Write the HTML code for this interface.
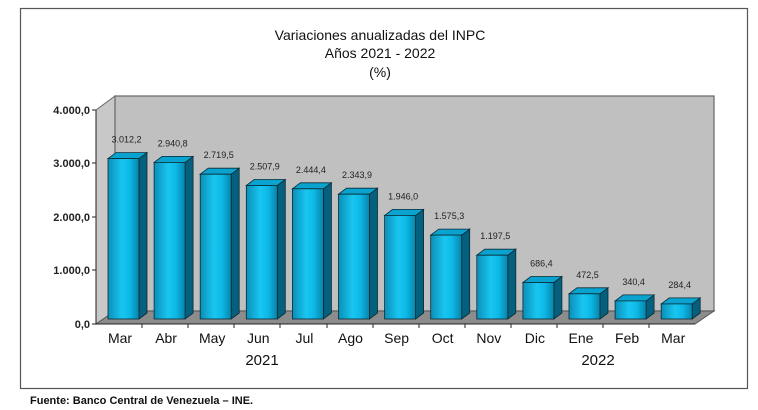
<!DOCTYPE html>
<html><head><meta charset="utf-8"><style>
html,body{margin:0;padding:0;background:#fff;}
svg{display:block}
</style></head><body>
<svg width="758" height="410" viewBox="0 0 758 410" xmlns="http://www.w3.org/2000/svg" font-family="Liberation Sans, Arial, sans-serif">
<defs>
<linearGradient id="fg" x1="0" x2="1" y1="0" y2="0">
<stop offset="0" stop-color="#0a8fb8"/><stop offset="0.45" stop-color="#19c6f0"/><stop offset="0.7" stop-color="#0db8e6"/><stop offset="1" stop-color="#0784aa"/>
</linearGradient>
</defs>
<rect x="20.5" y="8.5" width="727" height="380" fill="#fff" stroke="#555" stroke-width="1.2"/>
<text x="380" y="40" text-anchor="middle" font-size="14" fill="#111">Variaciones anualizadas del INPC</text>
<text x="380" y="58" text-anchor="middle" font-size="14" fill="#111">Años 2021 - 2022</text>
<text x="380" y="77" text-anchor="middle" font-size="14" fill="#111">(%)</text>
<polygon points="96,110 115,96 115,311 96,324" fill="#c8c8c8" stroke="#666" stroke-width="1"/>
<rect x="115" y="96" width="599" height="215" fill="#c0c0c0" stroke="#666" stroke-width="1.2"/>
<polygon points="96,324 115,311 714,311 695,324" fill="#8c8c8c" stroke="#555" stroke-width="1"/>
<line x1="96" y1="110" x2="96" y2="324" stroke="#222"/>
<line x1="96" y1="324" x2="695" y2="324" stroke="#222"/>
<g stroke="#222">
<line x1="92" y1="110" x2="96" y2="110"/><line x1="92" y1="163" x2="96" y2="163"/><line x1="92" y1="217" x2="96" y2="217"/><line x1="92" y1="270" x2="96" y2="270"/><line x1="92" y1="324" x2="96" y2="324"/>
<line x1="142" y1="324" x2="142" y2="328"/><line x1="188" y1="324" x2="188" y2="328"/><line x1="234" y1="324" x2="234" y2="328"/><line x1="280" y1="324" x2="280" y2="328"/><line x1="327" y1="324" x2="327" y2="328"/><line x1="373" y1="324" x2="373" y2="328"/><line x1="419" y1="324" x2="419" y2="328"/><line x1="465" y1="324" x2="465" y2="328"/><line x1="511" y1="324" x2="511" y2="328"/><line x1="557" y1="324" x2="557" y2="328"/><line x1="603" y1="324" x2="603" y2="328"/><line x1="649" y1="324" x2="649" y2="328"/>
</g>
<g font-size="11" font-weight="bold" text-anchor="end" fill="#222">
<text x="90" y="114">4.000,0</text><text x="90" y="167">3.000,0</text><text x="90" y="221">2.000,0</text><text x="90" y="274">1.000,0</text><text x="90" y="328">0,0</text>
</g>
<g stroke="#0a2a35" stroke-width="0.8">
<g transform="translate(108,158.6)"><polygon points="31,0 39,-6 39,154.4 31,160.4" fill="#05607e"/><polygon points="0,0 8,-6 39,-6 31,0" fill="#0aa3cf"/><rect width="31" height="160.4" fill="url(#fg)"/></g>
<g transform="translate(154.1,162.4)"><polygon points="31,0 39,-6 39,150.6 31,156.6" fill="#05607e"/><polygon points="0,0 8,-6 39,-6 31,0" fill="#0aa3cf"/><rect width="31" height="156.6" fill="url(#fg)"/></g>
<g transform="translate(200.2,174.2)"><polygon points="31,0 39,-6 39,138.8 31,144.8" fill="#05607e"/><polygon points="0,0 8,-6 39,-6 31,0" fill="#0aa3cf"/><rect width="31" height="144.8" fill="url(#fg)"/></g>
<g transform="translate(246.3,185.5)"><polygon points="31,0 39,-6 39,127.5 31,133.5" fill="#05607e"/><polygon points="0,0 8,-6 39,-6 31,0" fill="#0aa3cf"/><rect width="31" height="133.5" fill="url(#fg)"/></g>
<g transform="translate(292.4,188.8)"><polygon points="31,0 39,-6 39,124.2 31,130.2" fill="#05607e"/><polygon points="0,0 8,-6 39,-6 31,0" fill="#0aa3cf"/><rect width="31" height="130.2" fill="url(#fg)"/></g>
<g transform="translate(338.5,194.2)"><polygon points="31,0 39,-6 39,118.8 31,124.8" fill="#05607e"/><polygon points="0,0 8,-6 39,-6 31,0" fill="#0aa3cf"/><rect width="31" height="124.8" fill="url(#fg)"/></g>
<g transform="translate(384.6,215.4)"><polygon points="31,0 39,-6 39,97.6 31,103.6" fill="#05607e"/><polygon points="0,0 8,-6 39,-6 31,0" fill="#0aa3cf"/><rect width="31" height="103.6" fill="url(#fg)"/></g>
<g transform="translate(430.7,235.1)"><polygon points="31,0 39,-6 39,77.9 31,83.9" fill="#05607e"/><polygon points="0,0 8,-6 39,-6 31,0" fill="#0aa3cf"/><rect width="31" height="83.9" fill="url(#fg)"/></g>
<g transform="translate(476.8,255.2)"><polygon points="31,0 39,-6 39,57.8 31,63.8" fill="#05607e"/><polygon points="0,0 8,-6 39,-6 31,0" fill="#0aa3cf"/><rect width="31" height="63.8" fill="url(#fg)"/></g>
<g transform="translate(522.9,282.5)"><polygon points="31,0 39,-6 39,30.5 31,36.5" fill="#05607e"/><polygon points="0,0 8,-6 39,-6 31,0" fill="#0aa3cf"/><rect width="31" height="36.5" fill="url(#fg)"/></g>
<g transform="translate(569,293.8)"><polygon points="31,0 39,-6 39,19.2 31,25.2" fill="#05607e"/><polygon points="0,0 8,-6 39,-6 31,0" fill="#0aa3cf"/><rect width="31" height="25.2" fill="url(#fg)"/></g>
<g transform="translate(615.1,300.9)"><polygon points="31,0 39,-6 39,12.1 31,18.1" fill="#05607e"/><polygon points="0,0 8,-6 39,-6 31,0" fill="#0aa3cf"/><rect width="31" height="18.1" fill="url(#fg)"/></g>
<g transform="translate(661.2,303.9)"><polygon points="31,0 39,-6 39,9.1 31,15.1" fill="#05607e"/><polygon points="0,0 8,-6 39,-6 31,0" fill="#0aa3cf"/><rect width="31" height="15.1" fill="url(#fg)"/></g>
</g>
<g font-size="9" text-anchor="middle" fill="#222">
<text x="126.5" y="142.6">3.012,2</text><text x="172.6" y="146.4">2.940,8</text><text x="218.7" y="158.2">2.719,5</text><text x="264.8" y="169.5">2.507,9</text><text x="310.9" y="172.8">2.444,4</text><text x="357" y="178.2">2.343,9</text><text x="403.1" y="199.4">1.946,0</text><text x="449.2" y="219.1">1.575,3</text><text x="495.3" y="239.2">1.197,5</text><text x="541.4" y="266.5">686,4</text><text x="587.5" y="277.8">472,5</text><text x="633.6" y="284.9">340,4</text><text x="679.7" y="287.9">284,4</text>
</g>
<g font-size="14" text-anchor="middle" fill="#111">
<text x="120" y="343">Mar</text><text x="166.1" y="343">Abr</text><text x="212.2" y="343">May</text><text x="258.3" y="343">Jun</text><text x="304.4" y="343">Jul</text><text x="350.5" y="343">Ago</text><text x="396.6" y="343">Sep</text><text x="442.7" y="343">Oct</text><text x="488.8" y="343">Nov</text><text x="534.9" y="343">Dic</text><text x="581" y="343">Ene</text><text x="627.1" y="343">Feb</text><text x="673.2" y="343">Mar</text>
</g>
<text x="262" y="365" font-size="15" text-anchor="middle" fill="#111">2021</text>
<text x="598" y="365" font-size="15" text-anchor="middle" fill="#111">2022</text>
<text x="30" y="404" font-size="11" font-weight="bold" fill="#111">Fuente: Banco Central de Venezuela – INE.</text>
</svg>
</body></html>
